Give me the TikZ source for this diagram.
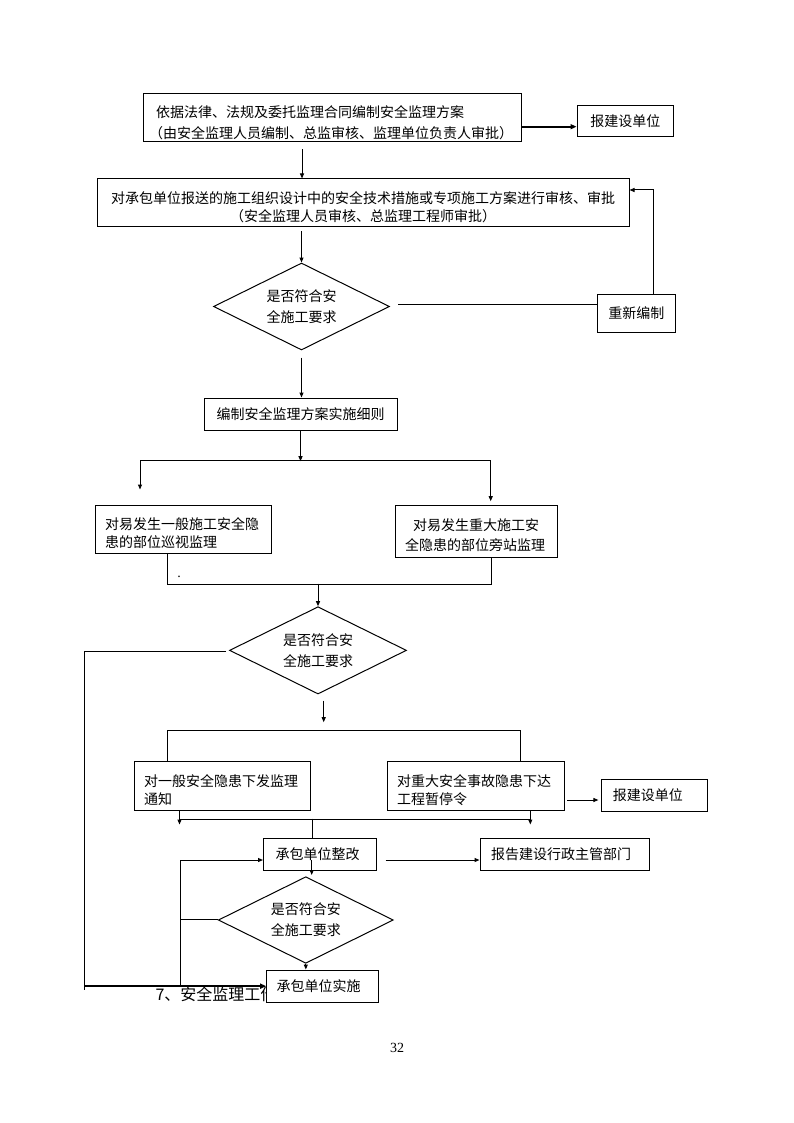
\documentclass[tikz,border=0pt]{standalone}
\usepackage{fontspec}
\newfontfamily\cjk{Noto Sans CJK SC}
\newfontfamily\pgnumfont{Liberation Serif}
\usetikzlibrary{shapes.geometric,arrows.meta,calc}
\begin{document}
\begin{tikzpicture}[x=1pt,y=-1pt,line width=1pt,
  box/.style={draw,fill=white,inner ysep=0pt,font=\cjk\fontsize{14}{18}\selectfont},
  dia/.style={draw,fill=white,diamond,aspect=2,inner sep=0pt,align=center,font=\cjk\fontsize{14}{21}\selectfont},
  lower/.style={execute at begin node={\rule{0pt}{20.5pt}}},
  arr/.style={-{Triangle[length=5pt,width=4pt]}},
  tarr/.style={line width=2pt,-{Triangle[length=6pt,width=5pt]}}]
\useasboundingbox (0,0) rectangle (794,1123);

% text partly hidden behind the last box
\node[font=\cjk\fontsize{16}{16}\selectfont,anchor=west,inner sep=0pt] (t7) at (155,994) {7、安全监理工作};

% nodes
\node[box,lower,minimum width=377.5pt,minimum height=48pt,text width=366.5pt,inner xsep=5.5pt,align=left,font=\cjk\fontsize{14}{21}\selectfont] (b1) at (332.25,118)
  {\hspace*{7pt}依据法律、法规及委托监理合同编制安全监理方案\\（由安全监理人员编制、总监审核、监理单位负责人审批）};
\node[box,minimum width=96.5pt,minimum height=31pt,inner xsep=0pt] (jb1) at (625.25,121.2) {报建设单位};
\node[box,lower,minimum width=532pt,minimum height=48pt,text width=520pt,inner xsep=6pt,align=center,font=\cjk\fontsize{14}{18.5}\selectfont] (b2) at (363,203)
  {对承包单位报送的施工组织设计中的安全技术措施或专项施工方案进行审核、审批\\（安全监理人员审核、总监理工程师审批）};
\node[dia,lower,minimum width=176pt,minimum height=87pt] (d1) at (301.5,306.5) {是否符合安\\全施工要求};
\node[box,minimum width=78.5pt,minimum height=38pt,inner xsep=0pt] (re) at (636.25,313) {重新编制};
\node[box,minimum width=193pt,minimum height=32pt,inner xsep=0pt] (b3) at (300.5,414) {编制安全监理方案实施细则};
\node[box,lower,minimum width=176.7pt,minimum height=48.3pt,text width=156.7pt,inner xsep=10pt,align=left] (bL) at (183.35,529.15)
  {对易发生一般施工安全隐\\患的部位巡视监理};
\node[box,lower,minimum width=162.7pt,minimum height=52.3pt,text width=142.7pt,inner xsep=10pt,align=left,font=\cjk\fontsize{14}{20}\selectfont] (bR) at (476.35,531.15)
  {\hspace*{8pt}对易发生重大施工安\\全隐患的部位旁站监理};
\node[dia,lower,minimum width=177pt,minimum height=87.3pt] (d2) at (318,650.35) {是否符合安\\全施工要求};
\node[box,lower,minimum width=176.7pt,minimum height=48.3pt,text width=156.7pt,inner xsep=10pt,align=left] (bL2) at (222.35,785.85)
  {对一般安全隐患下发监理\\通知};
\node[box,lower,minimum width=177.8pt,minimum height=48.3pt,text width=157.8pt,inner xsep=10pt,align=left] (bR2) at (475.9,785.85)
  {对重大安全事故隐患下达\\工程暂停令};
\node[box,minimum width=105.4pt,minimum height=32.4pt,text width=83.4pt,inner xsep=11pt,align=left] (jb2) at (654.6,795.5) {报建设单位};
\node[box,minimum width=113pt,minimum height=32.2pt,text width=89pt,inner xsep=12pt,align=left] (zg) at (320,854.4) {承包单位整改};
\node[box,minimum width=169pt,minimum height=32.4pt,text width=147pt,inner xsep=11pt,align=left] (rep) at (564.5,854.5) {报告建设行政主管部门};
\node[dia,lower,minimum width=175pt,minimum height=86.6pt] (d3) at (305.8,920) {是否符合安\\全施工要求};
\node[box,minimum width=111.6pt,minimum height=32.3pt,text width=91.6pt,inner xsep=10pt,align=left] (ss) at (322.5,986.15) {承包单位实施};

\node[font=\pgnumfont\fontsize{14}{14}\selectfont,inner sep=0pt,anchor=base] (dot) at (179,577) {.};
\node[font=\pgnumfont\fontsize{14}{14}\selectfont,inner sep=0pt] (pg) at (397,1048) {32};

% connectors
\draw[tarr] ($(b1.east)+(0,8.7)$) -- ($(jb1.west)+(0,5.5)$);
\draw[arr] ($(b1.south west)+(159,7)$) -- ($(b2.north west)+(205.5,0)$);
\draw[arr] ($(d1.north)+(0,-31)$) -- (d1.north);
\draw ($(d1.east)+(8,-2.5)$) -- ($(re.west)+(0,-9)$);
\draw[arr] ($(re.north)+(17,0)$) |- ($(b2.east)+(0,-13)$);
\draw[arr] ($(d1.south)+(0,7)$) -- (d1.south |- b3.north);

\coordinate (sp) at ($(b3.south)+(0,30.7)$);
\draw[arr] (b3.south) -- (sp);
\draw ($(bL.north)+(-43.35,-44.3)$) -- ($(bR.north)+(14.35,-44.3)$);
\draw[arr] ($(bL.north)+(-43.35,-44.3)$) -- ($(bL.north)+(-43.35,-15)$);
\draw[arr] ($(bR.north)+(14.35,-44.3)$) -- ($(bR.north)+(14.35,-3.3)$);

\draw ($(bL.south west)+(73.3,0)$) |- ($(bR.south west)+(96.7,26.7)$) -- ($(bR.south west)+(96.7,0)$);
\draw[arr] ($(d2.north)+(0,-22.7)$) -- (d2.north);

\coordinate (lc) at (84.3,990);
\draw ($(d2.west)+(-3,1.3)$) -| (lc);
\draw[tarr] (lc |- ss.west) -- (ss.west);

\draw[arr] ($(d2.south)+(5.7,6)$) -- ($(d2.south)+(5.7,27.7)$);
\draw ($(bL2.north west)+(34,0)$) |- ($(bR2.north west)+(133.8,-30.7)$) -- ($(bR2.north west)+(133.8,0)$);
\draw[arr] ($(bR2.east)+(1.7,14.15)$) -- ($(jb2.west)+(-3,4.5)$);

\draw ($(bL2.south west)+(46,9)$) -- ($(bR2.south west)+(143.8,9)$);
\draw[arr] ($(bL2.south west)+(46,0)$) -- ($(bL2.south west)+(46,14)$);
\draw[arr] ($(bR2.south west)+(143.8,0)$) -- ($(bR2.south west)+(143.8,14)$);
\draw ($(zg.north)+(-7.3,-19.3)$) -- ($(zg.north)+(-7.3,0)$);
\draw[arr] ($(zg.south)+(-8.3,-11.5)$) -- ($(zg.south)+(-8.3,4)$);
\draw[arr] ($(zg.east)+(8.5,5.6)$) -- ($(rep.west)+(0,5.5)$);

\draw[arr] ($(d3.west)+(0,-1)$) -- ++(-37.3,0) |- ($(zg.west)+(0,5.6)$);
\draw ($(d3.west)+(-37.3,-1)$) -- ($(d3.west)+(-37.3,66.15)$);
\draw[arr] (d3.south) -- (d3.south |- ss.north);
\end{tikzpicture}
\end{document}
